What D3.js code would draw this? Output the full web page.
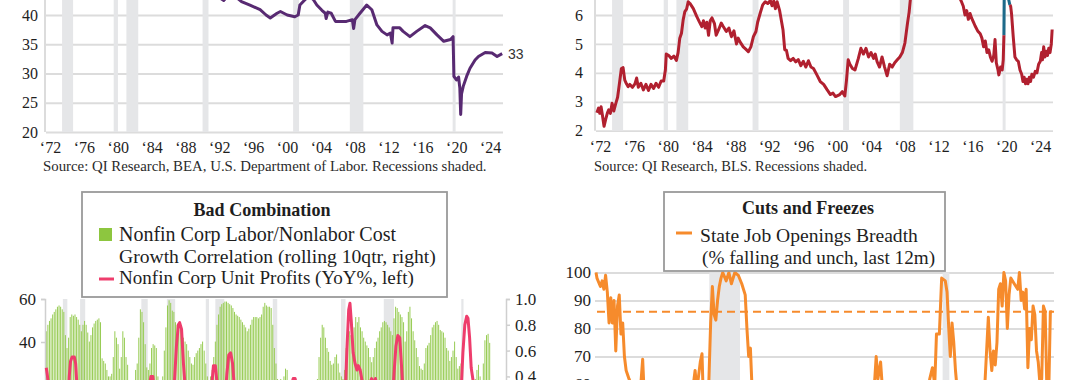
<!DOCTYPE html>
<html><head><meta charset="utf-8">
<script src="https://cdn.jsdelivr.net/npm/d3@7"></script>
<style>body{margin:0;background:#fff}svg{display:block}</style>
</head><body>
<svg id="chart" width="1080" height="380"></svg>
<script>
// ---------------- DATA ----------------
const recessions = [[1957.6,1958.3],[1960.3,1961.1],[1969.9,1970.9],[1973.9,1975.2],[1980.0,1980.5],[1981.5,1982.9],[1990.5,1991.2],[2001.2,2001.9],[2007.9,2009.5],[2020.05,2020.4]];
const yearTicks = [1972,1976,1980,1984,1988,1992,1996,2000,2004,2008,2012,2016,2020,2024];
const yearTickLabels = ["‘72","‘76","‘80","‘84","‘88","‘92","‘96","‘00","‘04","‘08","‘12","‘16","‘20","‘24"];

// Panel 1 (top-left, purple)
const p1Ticks = [20,25,30,35,40];
const p1Series = [[1972.0,47.0],[1975.0,46.5],[1978.0,46.8],[1981.0,46.0],[1984.0,45.2],[1987.0,44.8],[1990.0,44.0],[1992.0,43.4],[1993.0,42.5],[1993.4,43.1],[1994.5,43.0],[1995.1,42.3],[1996.1,41.7],[1997.3,40.9],[1998.0,40.0],[1998.5,39.5],[1999.3,40.3],[1999.7,40.6],[2000.5,40.0],[2001.4,39.7],[2001.8,40.0],[2002.0,41.7],[2002.6,42.6],[2003.1,43.3],[2003.6,42.6],[2004.0,41.7],[2004.6,40.8],[2005.0,40.3],[2005.1,39.4],[2005.3,40.5],[2005.7,40.3],[2006.2,38.9],[2007.5,38.9],[2008.2,39.2],[2008.35,37.7],[2008.5,39.2],[2009.1,40.3],[2009.9,41.7],[2010.5,40.9],[2011.1,38.3],[2011.7,37.2],[2012.3,36.6],[2012.7,36.9],[2012.9,35.2],[2013.0,37.8],[2013.8,37.8],[2014.2,37.2],[2015.0,36.3],[2015.8,37.2],[2016.8,38.2],[2017.4,37.8],[2018.2,36.6],[2019.0,35.5],[2019.8,35.8],[2020.1,36.3],[2020.2,29.5],[2020.5,28.9],[2020.75,29.4],[2020.9,27.5],[2021.0,23.0],[2021.1,26.5],[2021.3,27.8],[2021.7,29.5],[2022.1,30.9],[2022.7,32.3],[2023.1,32.9],[2023.9,33.6],[2024.7,33.5],[2025.0,33.2],[2025.3,32.9],[2025.9,33.4]];
const p1EndLabel = "33";
const p1Source = "Source: QI Research, BEA, U.S. Department of Labor. Recessions shaded.";

// Panel 2 (top-right, red + blue)
const p2Ticks = [2,3,4,5,6];
const p2Series = [[1972.1,2.62],[1972.3,2.78],[1972.45,2.6],[1972.6,2.83],[1972.75,2.55],[1972.95,2.15],[1973.15,2.4],[1973.35,2.62],[1973.5,2.72],[1973.7,2.6],[1973.9,2.95],[1974.1,2.68],[1974.3,2.9],[1974.55,3.15],[1974.8,3.7],[1975.0,4.15],[1975.2,4.18],[1975.4,3.75],[1975.6,3.62],[1975.8,3.52],[1976.0,3.6],[1976.3,3.5],[1976.6,3.62],[1976.8,3.82],[1977.0,3.5],[1977.3,3.64],[1977.6,3.41],[1977.9,3.6],[1978.2,3.39],[1978.5,3.6],[1978.8,3.46],[1979.1,3.64],[1979.4,3.5],[1979.7,3.72],[1980.0,3.72],[1980.2,4.1],[1980.3,4.65],[1980.6,4.6],[1980.9,4.5],[1981.2,4.58],[1981.5,4.43],[1981.7,4.7],[1981.9,5.2],[1982.1,5.37],[1982.3,5.83],[1982.5,6.12],[1982.7,6.2],[1982.9,6.46],[1983.1,6.4],[1983.5,6.22],[1983.9,5.95],[1984.2,5.77],[1984.5,5.6],[1984.7,5.8],[1984.9,5.55],[1985.1,5.75],[1985.3,5.3],[1985.5,5.8],[1985.7,5.9],[1986.0,5.7],[1986.2,5.3],[1986.5,5.5],[1986.8,5.72],[1987.0,5.62],[1987.4,5.43],[1987.7,5.55],[1988.0,5.25],[1988.3,5.45],[1988.6,5.0],[1988.8,5.2],[1989.0,5.08],[1989.4,4.9],[1989.7,4.82],[1990.0,4.73],[1990.3,4.9],[1990.6,5.25],[1990.9,5.43],[1991.1,5.75],[1991.4,6.06],[1991.7,6.35],[1992.0,6.46],[1992.3,6.4],[1992.6,6.5],[1992.8,6.32],[1993.0,6.48],[1993.2,6.22],[1993.4,6.46],[1993.7,6.15],[1994.1,5.48],[1994.3,4.8],[1994.5,4.78],[1994.7,4.5],[1995.0,4.42],[1995.3,4.5],[1995.6,4.38],[1995.9,4.46],[1996.2,4.25],[1996.5,4.4],[1996.8,4.2],[1997.1,4.42],[1997.4,4.2],[1997.7,4.15],[1998.1,3.93],[1998.5,3.7],[1998.9,3.6],[1999.3,3.42],[1999.7,3.25],[2000.0,3.3],[2000.3,3.18],[2000.8,3.25],[2001.1,3.35],[2001.4,3.2],[2001.6,3.75],[2001.8,4.45],[2002.0,4.3],[2002.3,4.15],[2002.6,4.1],[2003.0,4.5],[2003.3,4.85],[2003.6,4.65],[2003.9,4.85],[2004.2,4.55],[2004.5,4.7],[2004.8,4.5],[2005.0,4.65],[2005.2,4.4],[2005.5,4.2],[2005.8,4.55],[2006.1,4.2],[2006.4,3.9],[2006.7,4.3],[2007.0,4.2],[2007.3,4.35],[2007.6,4.45],[2007.9,4.55],[2008.2,4.7],[2008.5,5.03],[2008.8,5.7],[2009.0,6.1],[2009.2,6.7],[2009.6,7.8],[2010.2,8.6],[2011.0,8.3],[2012.0,8.0],[2013.0,7.6],[2014.0,7.1],[2014.8,6.7],[2015.2,6.45],[2015.4,6.3],[2015.6,6.0],[2015.8,6.15],[2016.0,5.85],[2016.2,6.05],[2016.4,5.88],[2016.6,5.75],[2016.8,5.62],[2017.1,5.45],[2017.4,5.35],[2017.6,5.2],[2017.8,4.9],[2018.0,5.1],[2018.2,4.7],[2018.4,4.8],[2018.6,4.55],[2018.8,4.4],[2019.0,4.6],[2019.15,5.15],[2019.3,4.35],[2019.5,4.1],[2019.6,3.93],[2019.8,4.2],[2020.0,4.1],[2020.12,4.45],[2020.2,5.3],[2020.5,null],[2020.9,6.35],[2021.0,6.3],[2021.1,6.05],[2021.3,5.25],[2021.5,4.55],[2021.7,4.45],[2021.9,4.4],[2022.1,4.1],[2022.3,3.95],[2022.45,3.7],[2022.6,3.85],[2022.75,3.62],[2022.9,3.78],[2023.05,3.62],[2023.2,3.85],[2023.35,3.7],[2023.5,3.95],[2023.7,3.85],[2023.9,4.05],[2024.1,4.0],[2024.3,4.3],[2024.5,4.4],[2024.65,4.7],[2024.75,4.45],[2024.9,4.9],[2025.05,4.55],[2025.2,4.75],[2025.35,4.6],[2025.5,4.85],[2025.65,4.7],[2025.8,5.0],[2025.9,5.5]];
const p2Covid = [[2020.2,5.3],[2020.26,7.5],[2020.32,9.5],[2020.45,8.5],[2020.6,7.2],[2020.75,6.55],[2020.9,6.35]];
const p2Source = "Source: QI Research, BLS. Recessions shaded.";

// Panel 3 (bottom-left): quarterly correlation bars (right axis) + unit profits line (left axis)
const p3Title = "Bad Combination";
const p3Legend = ["Nonfin Corp Labor/Nonlabor Cost","Growth Correlation (rolling 10qtr, right)","Nonfin Corp Unit Profits (YoY%, left)"];
const p3LeftTicks = [20,40,60];
const p3RightTicks = [0.4,0.6,0.8,1.0];
const p3StartYear = 1955;
const p3Corr = [
 0.75,0.80,0.83,0.85, 0.88,0.90,0.92,0.94, 0.95,0.94,0.92,0.90, 0.72,0.62,0.70,0.86,
 0.88,0.87,0.88,0.86, 0.84,0.80,0.75,0.80, 0.83,0.80,0.74,0.67, 0.72,0.78,0.81,0.83,
 0.84,0.85,0.82,0.54, 0.52,0.50,0.45,0.40, 0.40,0.42,0.55,0.75, 0.70,0.65,0.46,0.55,
 0.75,0.70,0.55,0.49, 0.35,0.30,0.32,0.36, 0.45,0.50,0.70,0.92, 0.90,0.82,0.65,0.47,
 0.45,0.50,0.62,0.65, 0.64,0.62,0.40,0.30, 0.32,0.40,0.60,0.78, 0.95,0.99,0.97,0.91,
 0.90,0.82,0.80,0.78, 0.77,0.75,0.70,0.67, 0.65,0.60,0.55,0.50, 0.49,0.55,0.58,0.60,
 0.62,0.65,0.67,0.60, 0.50,0.40,0.36,0.40, 0.45,0.55,0.67,0.80, 0.88,0.94,0.96,0.97,
 0.98,0.98,0.97,0.96, 0.95,0.93,0.90,0.88, 0.87,0.86,0.84,0.82, 0.80,0.78,0.75,0.77,
 0.80,0.84,0.86,0.86, 0.86,0.85,0.86,0.88, 0.94,0.97,0.95,0.94, 0.94,0.93,0.80,0.62,
 0.50,0.38,0.35,0.38, 0.33,0.40,0.46,0.45, 0.36,0.32,0.30,0.28, 0.25,0.22,0.20,0.22,
 0.25,0.20,0.18,0.22, 0.28,0.32,0.30,0.35, 0.36,0.33,0.38,0.55, 0.70,0.80,0.78,0.70,
 0.62,0.59,0.52,0.49, 0.50,0.55,0.57,0.50, 0.43,0.40,0.38,0.45, 0.62,0.70,0.75,0.72,
 0.70,0.78,0.86,0.82, 0.86,0.78,0.75,0.70, 0.67,0.64,0.62,0.55, 0.51,0.55,0.62,0.67,
 0.70,0.75,0.78,0.82, 0.83,0.82,0.80,0.78, 0.75,0.72,0.85,0.94, 0.93,0.90,0.88,0.86,
 0.82,0.67,0.75,0.90, 0.94,0.85,0.75,0.68, 0.62,0.55,0.48,0.46, 0.45,0.50,0.62,0.64,
 0.66,0.72,0.78,0.80, 0.82,0.83,0.80,0.76, 0.75,0.74,0.70,0.62, 0.60,0.52,0.55,0.60,
 0.67,0.55,0.46,0.48, 0.50,0.45,0.35,0.34, 0.33,0.32,0.30,0.33, 0.36,0.38,0.45,0.49,
 0.40,0.36,0.50,0.68, 0.72,0.73,0.66];
const p3Profits = [[1955.0,28],[1955.15,25],[1955.4,19],[1955.8,10],[1956.5,2],[1957.3,-5],[1958.0,-12],[1958.4,10],[1958.6,24],[1958.8,31],[1959.05,33],[1959.4,33],[1959.6,30],[1959.8,20],[1960.3,5],[1961.0,-5],[1962.0,8],[1963.0,5],[1964.0,12],[1965.0,15],[1966.0,5],[1967.0,-8],[1968.0,2],[1969.0,-5],[1970.0,-15],[1970.8,5],[1971.1,18],[1971.4,24],[1971.7,24],[1971.9,18],[1972.5,10],[1973.5,0],[1974.3,-15],[1974.8,5],[1975.1,22],[1975.4,38],[1975.7,48],[1975.9,49],[1976.2,46],[1976.5,30],[1976.8,18],[1977.5,5],[1978.5,0],[1979.5,-5],[1980.3,-15],[1980.8,10],[1981.0,22],[1981.2,29],[1981.5,29],[1981.8,20],[1982.5,-20],[1983.0,12],[1983.3,25],[1983.6,34],[1983.9,35],[1984.2,30],[1984.5,18],[1985.5,5],[1987.0,0],[1989.0,-8],[1990.5,-10],[1991.5,8],[1992.5,12],[1993.3,18],[1993.7,23],[1994.0,23],[1994.4,17],[1995.0,8],[1997.0,5],[1999.0,-5],[2000.5,-10],[2001.3,-20],[2001.8,10],[2002.1,35],[2002.4,55],[2002.6,58],[2002.8,50],[2003.1,35],[2003.4,30],[2003.7,27],[2003.9,29],[2004.2,27],[2004.5,22],[2005.0,15],[2005.6,20],[2006.0,23],[2006.3,20],[2006.6,23],[2006.9,18],[2007.5,-5],[2008.5,-20],[2009.2,10],[2009.5,25],[2009.8,38],[2010.1,43],[2010.4,42],[2010.7,28],[2010.9,18],[2012.0,8],[2014.0,5],[2016.0,-5],[2018.0,5],[2019.0,-2],[2019.9,10],[2020.1,22],[2020.3,35],[2020.6,48],[2020.9,52],[2021.1,51],[2021.35,42],[2021.6,28],[2021.9,22],[2022.3,15],[2023.0,0],[2024.0,5],[2024.7,8]];

// Panel 4 (bottom-right, orange)
const p4Title = "Cuts and Freezes";
const p4Legend = ["State Job Openings Breadth","(% falling and unch, last 12m)"];
const p4Ticks = [60,70,80,90,100];
const p4Threshold = 86;
const p4Series = [[2002.0,100],[2002.05,98],[2002.23,95],[2002.32,97],[2002.41,94],[2002.5,99],[2002.59,93],[2002.68,82],[2002.77,91],[2002.85,82],[2002.94,90],[2003.03,72],[2003.12,88],[2003.21,92],[2003.3,78],[2003.39,82],[2003.48,70],[2003.57,65],[2003.72,62],[2003.84,60],[2003.93,61],[2004.07,58],[2004.29,56],[2004.43,69],[2004.52,55],[2005.0,40],[2005.8,32],[2006.5,45],[2006.98,55],[2007.16,65],[2007.25,58],[2007.43,68],[2007.52,71],[2007.61,50],[2007.85,55],[2007.97,82],[2008.06,95],[2008.15,85],[2008.24,83],[2008.33,90],[2008.42,95],[2008.51,98],[2008.6,100],[2008.78,97],[2008.92,100],[2009.05,96],[2009.23,100],[2009.41,99],[2009.59,96],[2009.77,92],[2009.86,80],[2009.95,70],[2010.04,73],[2010.13,58],[2010.6,40],[2011.5,30],[2012.5,25],[2013.5,35],[2014.5,30],[2015.5,40],[2016.41,50],[2016.59,70],[2016.68,62],[2016.82,68],[2016.95,55],[2017.5,40],[2018.5,45],[2019.2,55],[2019.38,62],[2019.52,66],[2019.64,60],[2019.73,78],[2019.88,78],[2020.0,98],[2020.19,97],[2020.28,93],[2020.37,80],[2020.45,70],[2020.54,82],[2020.63,75],[2020.72,65],[2020.85,55],[2021.3,40],[2021.8,45],[2022.07,50],[2022.25,60],[2022.43,84],[2022.52,72],[2022.61,65],[2022.7,72],[2022.79,67],[2022.88,75],[2022.97,94],[2023.06,96],[2023.15,88],[2023.24,100],[2023.33,97],[2023.42,80],[2023.51,92],[2023.6,98],[2023.78,96],[2023.96,94],[2024.05,100],[2024.14,90],[2024.23,93],[2024.32,87],[2024.4,94],[2024.49,66],[2024.58,80],[2024.67,76],[2024.76,88],[2024.85,85],[2024.94,72],[2025.03,68],[2025.12,60],[2025.21,62],[2025.3,88],[2025.39,86],[2025.48,58],[2025.57,55],[2025.66,86],[2025.75,86]];

// ---------------- DRAW ----------------
const FONT = "'Liberation Serif', 'Times New Roman', serif";
const GRID = '#dcdcdc', BAND = '#e5e6e8', INK = '#1e1e1e';
const PURPLE = '#582a72', RED = '#b1202f', BLUE = '#1d6a8a', GREEN = '#8dc63f', BARGREEN = '#98cc55', PINK = '#ee3d6c', ORANGE = '#f68b2c';
const svg = d3.select('#chart');

function fitWidth(t, w) {
  const cw = t.node().getComputedTextLength();
  const fs = parseFloat(t.attr('font-size'));
  t.attr('font-size', (fs * w / cw).toFixed(2));
  return t;
}
function bands(g, x, yTop, yBot) {
  const [d0, d1] = x.domain();
  g.append('g').selectAll('rect').data(recessions.filter(r => r[1] > d0 && r[0] < d1)).join('rect')
    .attr('x', d => x(Math.max(d[0], d0))).attr('width', d => x(Math.min(d[1], d1)) - x(Math.max(d[0], d0)))
    .attr('y', yTop).attr('height', yBot - yTop).attr('fill', BAND);
}
function gridLeft(g, y, ticks, x0, x1, pad, fs, fmt) {
  const ax = d3.axisLeft(y).tickValues(ticks).tickSize(-(x1 - x0)).tickPadding(pad).tickFormat(fmt || d3.format('d'));
  const a = g.append('g').attr('transform', `translate(${x0},0)`).call(ax);
  a.select('.domain').remove();
  a.selectAll('.tick line').attr('stroke', GRID).attr('stroke-width', 1.8);
  a.attr('font-family', FONT).attr('font-size', fs);
  a.selectAll('.tick text').attr('fill', INK);
  return a;
}
function yearAxis(g, x, yPos) {
  const a = g.append('g').attr('transform', `translate(0,${yPos})`)
    .call(d3.axisBottom(x).tickValues(yearTicks).tickFormat((d, i) => yearTickLabels[i]).tickSize(0).tickPadding(10));
  a.select('.domain').remove();
  a.attr('font-family', FONT).attr('font-size', 16);
  a.selectAll('.tick text').attr('fill', INK).attr('dx', 4);
}
const lineGen = (x, y) => d3.line().defined(d => d[1] !== null).x(d => x(d[0])).y(d => y(d[1]));

// ---- Panel 1 ----
{
  const g = svg.append('g');
  const x = d3.scaleLinear().domain([1972, 2026]).range([46, 503]);
  const y = d3.scaleLinear().domain([20, 40]).range([132, 15]);
  gridLeft(g, y, p1Ticks, 46, 503, 8, 16);
  g.append('line').attr('x1', 46).attr('x2', 503).attr('y1', y(45)).attr('y2', y(45)).attr('stroke', GRID).attr('stroke-width', 1.8);
  bands(g, x, -20, y(20));
  g.append('line').attr('x1', 45).attr('x2', 45).attr('y1', -20).attr('y2', y(20)).attr('stroke', GRID).attr('stroke-width', 2);
  yearAxis(g, x, y(20));
  g.append('path').datum(p1Series).attr('d', lineGen(x, y)).attr('fill', 'none').attr('stroke', PURPLE).attr('stroke-width', 3).attr('stroke-linejoin', 'round');
  g.append('text').attr('x', 508).attr('y', y(33.4) + 5).attr('font-family', "'Liberation Sans', Arial, sans-serif").attr('font-size', 14).attr('fill', '#333').text(p1EndLabel);
  const s = g.append('text').attr('x', 43).attr('y', 171).attr('font-family', FONT).attr('font-size', 13).attr('fill', '#2a2a2a').text(p1Source);
  fitWidth(s, 444);
}
// ---- Panel 2 ----
{
  const g = svg.append('g');
  const x = d3.scaleLinear().domain([1972, 2026]).range([596, 1053]);
  const y = d3.scaleLinear().domain([2, 6]).range([130.7, 15]);
  gridLeft(g, y, p2Ticks, 596, 1053, 13, 16);
  bands(g, x, -20, y(2));
  g.append('line').attr('x1', 595).attr('x2', 595).attr('y1', -20).attr('y2', y(2)).attr('stroke', GRID).attr('stroke-width', 2);
  yearAxis(g, x, y(2));
  g.append('path').datum(p2Covid).attr('d', lineGen(x, y)).attr('fill', 'none').attr('stroke', BLUE).attr('stroke-width', 3).attr('stroke-linejoin', 'round');
  g.append('path').datum(p2Series).attr('d', lineGen(x, y)).attr('fill', 'none').attr('stroke', RED).attr('stroke-width', 3).attr('stroke-linejoin', 'round');
  const s = g.append('text').attr('x', 594).attr('y', 171).attr('font-family', FONT).attr('font-size', 13).attr('fill', '#2a2a2a').text(p2Source);
  fitWidth(s, 273);
}
// ---- Panel 3 ----
{
  const g = svg.append('g');
  const x = d3.scaleLinear().domain([1954.8, 2026.9]).range([45, 505]);
  const yL = d3.scaleLinear().domain([-60, 60]).range([557, 299]);
  const yR = d3.scaleLinear().domain([-1, 1]).range([557, 299]);
  bands(g, x, 299, 400);
  g.append('g').selectAll('rect').data(p3Corr).join('rect')
    .attr('x', (d, i) => x(p3StartYear + i / 4) - 0.5).attr('width', 1.0)
    .attr('y', d => yR(d)).attr('height', d => yR(0) - yR(d)).attr('fill', BARGREEN);
  const aL = g.append('g').attr('transform', 'translate(45,0)').call(d3.axisLeft(yL).tickValues(p3LeftTicks).tickSize(4).tickPadding(5));
  aL.attr('font-family', FONT).attr('font-size', 17);
  aL.selectAll('path,line').attr('stroke', '#cfcfcf').attr('stroke-width', 1.5);
  aL.selectAll('.tick text').attr('fill', INK);
  const aR = g.append('g').attr('transform', 'translate(506,0)').call(d3.axisRight(yR).tickValues(p3RightTicks).tickFormat(d3.format('.1f')).tickSize(4).tickPadding(5));
  aR.attr('font-family', FONT).attr('font-size', 17);
  aR.selectAll('path,line').attr('stroke', '#cfcfcf').attr('stroke-width', 1.5);
  aR.selectAll('.tick text').attr('fill', INK);
  g.append('path').datum(p3Profits).attr('d', lineGen(x, yL)).attr('fill', 'none').attr('stroke', PINK).attr('stroke-width', 3).attr('stroke-linejoin', 'round');
  // legend
  g.append('rect').attr('x', 82).attr('y', 192).attr('width', 365).attr('height', 105).attr('fill', '#fff').attr('stroke', '#9a9a9a').attr('stroke-width', 1.8);
  const t = g.append('text').attr('x', 262).attr('y', 216).attr('text-anchor', 'middle').attr('font-family', FONT).attr('font-weight', 'bold').attr('font-size', 15).attr('fill', INK).text(p3Title);
  fitWidth(t, 137);
  g.append('rect').attr('x', 99).attr('y', 228).attr('width', 13).attr('height', 13).attr('fill', GREEN);
  g.append('line').attr('x1', 99).attr('x2', 114).attr('y1', 279).attr('y2', 279).attr('stroke', PINK).attr('stroke-width', 3);
  const widths = [277, 317, 295], bases = [241, 263, 284];
  p3Legend.forEach((s, i) => {
    const tt = g.append('text').attr('x', 119).attr('y', bases[i]).attr('font-family', FONT).attr('font-size', 17).attr('fill', INK).text(s);
    fitWidth(tt, widths[i]);
  });
}
// ---- Panel 4 ----
{
  const g = svg.append('g');
  const x = d3.scaleLinear().domain([2002, 2025.85]).range([596, 1054]);
  const y = d3.scaleLinear().domain([60, 100]).range([384.5, 272.5]);
  gridLeft(g, y, p4Ticks, 595, 1054, 4, 17);
  bands(g, x, 272.5, 400);
  g.append('line').attr('x1', 597).attr('x2', 1054).attr('y1', y(p4Threshold)).attr('y2', y(p4Threshold))
    .attr('stroke', ORANGE).attr('stroke-width', 2).attr('stroke-dasharray', '8,5');
  g.append('path').datum(p4Series).attr('d', lineGen(x, y)).attr('fill', 'none').attr('stroke', ORANGE).attr('stroke-width', 3).attr('stroke-linejoin', 'round');
  g.append('rect').attr('x', 664).attr('y', 192).attr('width', 281).attr('height', 79).attr('fill', '#fff').attr('stroke', '#9a9a9a').attr('stroke-width', 1.8);
  const t = g.append('text').attr('x', 808).attr('y', 214).attr('text-anchor', 'middle').attr('font-family', FONT).attr('font-weight', 'bold').attr('font-size', 15).attr('fill', INK).text(p4Title);
  fitWidth(t, 132);
  g.append('line').attr('x1', 676).attr('x2', 692).attr('y1', 233).attr('y2', 233).attr('stroke', ORANGE).attr('stroke-width', 3);
  const xs = [700, 702], widths = [218, 233], bases = [242, 264];
  p4Legend.forEach((s, i) => {
    const tt = g.append('text').attr('x', xs[i]).attr('y', bases[i]).attr('font-family', FONT).attr('font-size', 17).attr('fill', INK).text(s);
    fitWidth(tt, widths[i]);
  });
}
</script>
</body></html>
